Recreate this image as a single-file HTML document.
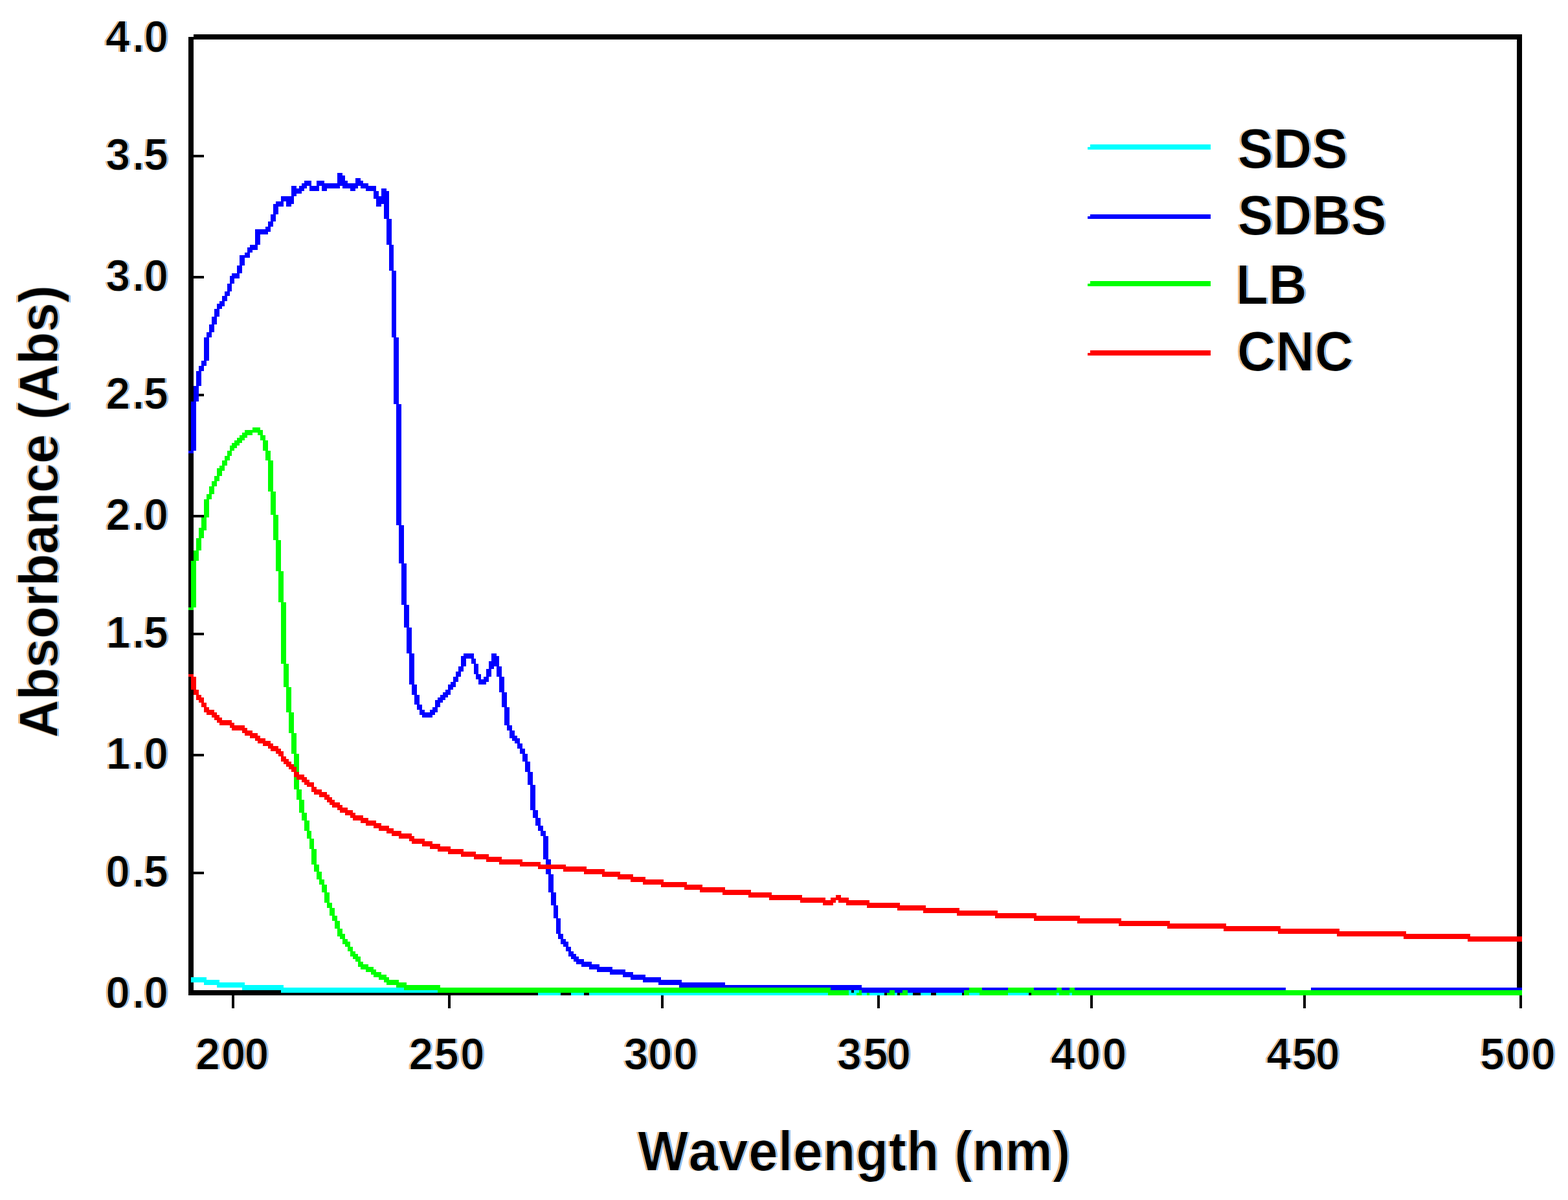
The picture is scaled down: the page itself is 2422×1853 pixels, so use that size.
<!DOCTYPE html>
<html lang="en"><head><meta charset="utf-8"><title>UV-Vis absorbance spectra</title>
<style>
html,body{margin:0;padding:0;background:#fff}
body{width:2422px;height:1853px;overflow:hidden}
svg{display:block}
text{font-family:"Liberation Sans",Arial,Helvetica,sans-serif;font-weight:bold;fill:#000}
</style></head>
<body>
<svg width="2422" height="1853" viewBox="0 0 2422 1853">
<rect width="2422" height="1853" fill="#fff"/>
<path fill="#000" shape-rendering="crispEdges" d="M298.94 52.7H2350.65V56.67H298.94ZM291 56.67H2350.65V60.64H291ZM291 60.64H298.94V239.22H291ZM291 239.22H314.81V243.19H291ZM291 243.19H298.94V425.74H291ZM291 425.74H314.81V429.71H291ZM291 429.71H298.94V608.29H291ZM291 608.29H314.81V612.26H291ZM291 612.26H298.94V794.81H291ZM291 794.81H314.81V798.78H291ZM291 798.78H298.94V977.36H291ZM291 977.36H314.81V981.33H291ZM291 981.33H298.94V1163.88H291ZM291 1163.88H314.81V1167.85H291ZM291 1167.85H298.94V1346.43H291ZM291 1346.43H314.81V1350.4H291ZM2342.71 60.64H2350.65V1528.98H2342.71ZM291 1350.4H298.94V1528.98H291ZM291 1528.98H2350.65V1536.92H291ZM1683.94 1536.92H1687.91V1556.76H1683.94ZM2013.33 1536.92H2017.3V1556.76H2013.33ZM691.82 1536.92H695.79V1556.76H691.82ZM1354.56 1536.92H1358.53V1556.76H1354.56ZM1021.2 1536.92H1025.17V1556.76H1021.2ZM2346.68 1536.92H2350.65V1556.76H2346.68ZM358.46 1536.92H362.43V1556.76H358.46Z"/>
<path fill="#00ffff" shape-rendering="crispEdges" d="M1683.94 223.35H1870.46V227.31H1683.94ZM1679.98 227.31H1870.46V231.28H1679.98ZM294.97 1509.14H318.78V1513.11H294.97ZM294.97 1513.11H338.62V1517.08H294.97ZM314.81 1517.08H378.31V1521.05H314.81ZM334.65 1521.05H437.83V1525.01H334.65ZM374.34 1525.01H830.72V1528.98H374.34ZM1318.84 1528.98H1326.78V1532.95H1318.84ZM433.87 1528.98H830.72V1532.95H433.87ZM1310.9 1528.98H1314.87V1532.95H1310.9ZM1342.65 1532.95H1366.46V1536.92H1342.65ZM1310.9 1532.95H1322.81V1536.92H1310.9ZM882.31 1532.95H902.15V1536.92H882.31ZM1422.02 1532.95H1437.9V1536.92H1422.02ZM1652.2 1532.95H1656.16V1536.92H1652.2ZM1497.42 1532.95H1513.3V1536.92H1497.42ZM1445.83 1532.95H1485.52V1536.92H1445.83ZM1556.95 1532.95H1588.7V1536.92H1556.95ZM1382.34 1532.95H1386.31V1536.92H1382.34ZM1632.35 1532.95H1636.32V1536.92H1632.35ZM910.09 1532.95H1279.16V1536.92H910.09ZM830.72 1532.95H866.43V1536.92H830.72ZM1402.18 1532.95H1410.12V1536.92H1402.18ZM1330.75 1532.95H1338.68V1536.92H1330.75Z"/>
<path fill="#0000ff" shape-rendering="crispEdges" d="M521.17 267H529.11V270.97H521.17ZM521.17 270.97H533.08V278.9H521.17ZM548.95 274.94H556.89V278.9H548.95ZM489.43 278.9H501.33V282.87H489.43ZM469.58 278.9H481.49V282.87H469.58ZM548.95 278.9H560.86V282.87H548.95ZM521.17 278.9H537.05V282.87H521.17ZM465.61 282.87H481.49V286.84H465.61ZM489.43 282.87H568.8V286.84H489.43ZM461.65 286.84H473.55V290.81H461.65ZM449.74 286.84H457.68V290.81H449.74ZM529.11 286.84H552.92V290.81H529.11ZM556.89 286.84H580.7V290.81H556.89ZM497.36 286.84H525.14V290.81H497.36ZM477.52 286.84H493.39V294.78H477.52ZM541.02 290.81H548.95V294.78H541.02ZM449.74 290.81H469.58V294.78H449.74ZM588.64 290.81H596.57V294.78H588.64ZM497.36 290.81H505.3V294.78H497.36ZM564.83 290.81H580.7V294.78H564.83ZM449.74 294.78H465.61V298.75H449.74ZM576.73 294.78H584.67V302.72H576.73ZM588.64 294.78H600.54V302.72H588.64ZM449.74 298.75H457.68V302.72H449.74ZM576.73 302.72H600.54V306.68H576.73ZM433.87 302.72H453.71V310.65H433.87ZM580.7 306.68H600.54V314.62H580.7ZM425.93 310.65H437.83V314.62H425.93ZM441.8 310.65H453.71V314.62H441.8ZM441.8 314.62H449.74V318.59H441.8ZM580.7 314.62H588.64V318.59H580.7ZM421.96 314.62H437.83V318.59H421.96ZM421.96 318.59H429.9V330.5H421.96ZM1683.94 330.5H1870.46V334.46H1683.94ZM592.61 314.62H600.54V338.43H592.61ZM1679.98 334.46H1870.46V338.43H1679.98ZM417.99 330.5H425.93V342.4H417.99ZM414.02 342.4H421.96V350.34H414.02ZM410.06 350.34H417.99V354.31H410.06ZM394.18 354.31H417.99V358.27H394.18ZM394.18 358.27H414.02V362.24H394.18ZM596.57 338.43H604.51V378.12H596.57ZM394.18 362.24H402.12V378.12H394.18ZM386.24 378.12H398.15V382.09H386.24ZM382.28 382.09H398.15V386.05H382.28ZM382.28 386.05H390.21V390.02H382.28ZM378.31 390.02H386.24V393.99H378.31ZM370.37 393.99H386.24V397.96H370.37ZM370.37 397.96H378.31V409.87H370.37ZM600.54 378.12H608.48V417.8H600.54ZM366.4 409.87H374.34V421.77H366.4ZM358.46 421.77H370.37V425.74H358.46ZM354.5 425.74H370.37V429.71H354.5ZM354.5 429.71H362.43V437.64H354.5ZM350.53 437.64H358.46V449.55H350.53ZM346.56 449.55H354.5V457.49H346.56ZM342.59 457.49H350.53V465.42H342.59ZM338.62 465.42H346.56V469.39H338.62ZM334.65 469.39H346.56V473.36H334.65ZM334.65 473.36H342.59V477.33H334.65ZM330.69 477.33H338.62V489.24H330.69ZM326.72 489.24H334.65V501.14H326.72ZM322.75 501.14H330.69V513.05H322.75ZM604.51 417.8H612.45V520.98H604.51ZM318.78 513.05H326.72V520.98H318.78ZM314.81 520.98H322.75V556.7H314.81ZM310.84 556.7H318.78V564.64H310.84ZM306.87 564.64H314.81V572.57H306.87ZM302.91 572.57H310.84V596.38H302.91ZM298.94 596.38H306.87V620.2H298.94ZM608.48 520.98H616.42V624.16H608.48ZM294.97 620.2H302.91V695.6H294.97ZM291 695.6H298.94V699.57H291ZM612.45 624.16H620.39V810.68H612.45ZM616.42 810.68H624.35V870.21H616.42ZM620.39 870.21H628.32V933.71H620.39ZM624.35 933.71H632.29V969.42H624.35ZM628.32 969.42H636.26V1009.11H628.32ZM759.28 1009.11H767.22V1013.08H759.28ZM715.63 1009.11H731.5V1013.08H715.63ZM711.66 1013.08H731.5V1017.05H711.66ZM759.28 1013.08H771.19V1021.01H759.28ZM727.54 1017.05H735.47V1024.98H727.54ZM711.66 1017.05H719.6V1028.95H711.66ZM755.31 1021.01H771.19V1028.95H755.31ZM755.31 1028.95H763.25V1032.92H755.31ZM707.69 1028.95H715.63V1036.89H707.69ZM731.5 1024.98H739.44V1040.86H731.5ZM767.22 1028.95H775.16V1044.83H767.22ZM751.35 1032.92H759.28V1044.83H751.35ZM703.72 1036.89H711.66V1044.83H703.72ZM735.47 1040.86H743.41V1048.79H735.47ZM747.38 1044.83H755.31V1048.79H747.38ZM699.76 1044.83H707.69V1052.76H699.76ZM739.44 1048.79H755.31V1052.76H739.44ZM632.29 1009.11H640.23V1056.73H632.29ZM695.79 1052.76H703.72V1056.73H695.79ZM739.44 1052.76H751.35V1056.73H739.44ZM691.82 1056.73H703.72V1060.7H691.82ZM691.82 1060.7H699.76V1064.67H691.82ZM771.19 1044.83H779.13V1068.64H771.19ZM687.85 1064.67H695.79V1068.64H687.85ZM636.26 1056.73H644.2V1072.6H636.26ZM683.88 1068.64H695.79V1072.6H683.88ZM679.91 1072.6H691.82V1076.57H679.91ZM675.94 1076.57H687.85V1080.54H675.94ZM671.98 1080.54H683.88V1084.51H671.98ZM640.23 1072.6H648.16V1088.48H640.23ZM775.16 1068.64H783.09V1092.45H775.16ZM671.98 1084.51H679.91V1092.45H671.98ZM644.2 1088.48H652.13V1096.42H644.2ZM668.01 1092.45H675.94V1096.42H668.01ZM664.04 1096.42H675.94V1100.38H664.04ZM648.16 1096.42H656.1V1100.38H648.16ZM648.16 1100.38H671.98V1104.35H648.16ZM652.13 1104.35H668.01V1108.32H652.13ZM779.13 1092.45H787.06V1120.23H779.13ZM783.09 1120.23H791.03V1128.16H783.09ZM787.06 1128.16H795V1136.1H787.06ZM787.06 1136.1H798.97V1140.07H787.06ZM791.03 1140.07H802.94V1144.04H791.03ZM795 1144.04H802.94V1148.01H795ZM798.97 1148.01H806.9V1155.94H798.97ZM802.94 1155.94H810.87V1163.88H802.94ZM806.9 1163.88H814.84V1175.79H806.9ZM810.87 1175.79H818.81V1191.66H810.87ZM814.84 1191.66H822.78V1211.5H814.84ZM818.81 1211.5H826.75V1251.19H818.81ZM822.78 1251.19H830.72V1263.09H822.78ZM826.75 1263.09H834.68V1275H826.75ZM830.72 1275H838.65V1282.94H830.72ZM834.68 1282.94H842.62V1290.87H834.68ZM838.65 1290.87H846.59V1326.59H838.65ZM842.62 1326.59H850.56V1350.4H842.62ZM846.59 1350.4H854.53V1378.18H846.59ZM850.56 1378.18H858.5V1398.02H850.56ZM854.53 1398.02H862.46V1417.86H854.53ZM858.5 1417.86H866.43V1441.68H858.5ZM862.46 1441.68H870.4V1449.61H862.46ZM866.43 1449.61H874.37V1453.58H866.43ZM866.43 1453.58H878.34V1457.55H866.43ZM870.4 1457.55H878.34V1461.52H870.4ZM874.37 1461.52H882.31V1469.45H874.37ZM878.34 1469.45H886.27V1473.42H878.34ZM878.34 1473.42H890.24V1477.39H878.34ZM882.31 1477.39H894.21V1481.36H882.31ZM886.27 1481.36H902.15V1485.33H886.27ZM890.24 1485.33H914.05V1489.3H890.24ZM898.18 1489.3H925.96V1493.27H898.18ZM910.09 1493.27H945.8V1497.23H910.09ZM921.99 1497.23H965.64V1501.2H921.99ZM941.83 1501.2H977.55V1505.17H941.83ZM961.68 1505.17H997.39V1509.14H961.68ZM973.58 1509.14H1021.2V1513.11H973.58ZM993.42 1513.11H1052.95V1517.08H993.42ZM1017.24 1517.08H1120.42V1521.05H1017.24ZM1048.98 1521.05H1330.75V1525.01H1048.98ZM1120.42 1525.01H1497.42V1528.98H1120.42ZM1660.13 1525.01H1985.55V1528.98H1660.13ZM1596.64 1525.01H1632.35V1528.98H1596.64ZM1640.29 1525.01H1652.2V1528.98H1640.29ZM2025.23 1525.01H2350.65V1528.98H2025.23ZM1517.27 1525.01H1556.95V1528.98H1517.27ZM1330.75 1528.98H1489.49V1532.95H1330.75Z"/>
<path fill="#00ff00" shape-rendering="crispEdges" d="M1683.94 433.68H1870.46V437.64H1683.94ZM1679.98 437.64H1870.46V441.61H1679.98ZM390.21 659.88H402.12V663.85H390.21ZM378.31 663.85H406.09V667.82H378.31ZM398.15 667.82H406.09V671.79H398.15ZM374.34 667.82H390.21V671.79H374.34ZM370.37 671.79H382.28V675.75H370.37ZM402.12 671.79H410.06V679.72H402.12ZM366.4 675.75H378.31V679.72H366.4ZM362.43 679.72H374.34V683.69H362.43ZM358.46 683.69H370.37V687.66H358.46ZM354.5 687.66H366.4V691.63H354.5ZM406.09 679.72H414.02V695.6H406.09ZM354.5 691.63H362.43V695.6H354.5ZM350.53 695.6H358.46V703.53H350.53ZM410.06 695.6H417.99V711.47H410.06ZM346.56 703.53H354.5V711.47H346.56ZM342.59 711.47H350.53V719.41H342.59ZM338.62 719.41H346.56V723.38H338.62ZM334.65 723.38H346.56V727.35H334.65ZM334.65 727.35H342.59V735.28H334.65ZM330.69 735.28H338.62V743.22H330.69ZM326.72 743.22H334.65V751.16H326.72ZM414.02 711.47H421.96V759.09H414.02ZM322.75 751.16H330.69V763.06H322.75ZM318.78 763.06H326.72V771H318.78ZM417.99 759.09H425.93V794.81H417.99ZM314.81 771H322.75V798.78H314.81ZM310.84 798.78H318.78V814.65H310.84ZM306.87 814.65H318.78V818.62H306.87ZM306.87 818.62H314.81V830.53H306.87ZM421.96 794.81H429.9V834.49H421.96ZM302.91 830.53H310.84V850.37H302.91ZM298.94 850.37H306.87V866.24H298.94ZM425.93 834.49H433.87V882.12H425.93ZM429.9 882.12H437.83V929.74H429.9ZM294.97 866.24H302.91V937.68H294.97ZM291 937.68H298.94V941.64H291ZM433.87 929.74H441.8V1024.98H433.87ZM437.83 1024.98H445.77V1060.7H437.83ZM441.8 1060.7H449.74V1100.38H441.8ZM445.77 1100.38H453.71V1132.13H445.77ZM449.74 1132.13H457.68V1163.88H449.74ZM453.71 1163.88H461.65V1219.44H453.71ZM457.68 1219.44H465.61V1235.31H457.68ZM461.65 1235.31H469.58V1255.16H461.65ZM465.61 1255.16H473.55V1267.06H465.61ZM469.58 1267.06H477.52V1282.94H469.58ZM473.55 1282.94H481.49V1294.84H473.55ZM477.52 1294.84H485.46V1310.71H477.52ZM481.49 1310.71H489.43V1334.53H481.49ZM485.46 1334.53H493.39V1346.43H485.46ZM489.43 1346.43H497.36V1358.34H489.43ZM493.39 1358.34H501.33V1366.27H493.39ZM497.36 1366.27H505.3V1378.18H497.36ZM501.33 1378.18H509.27V1394.05H501.33ZM505.3 1394.05H513.24V1401.99H505.3ZM509.27 1401.99H517.2V1413.9H509.27ZM513.24 1413.9H521.17V1421.83H513.24ZM517.2 1421.83H525.14V1433.74H517.2ZM521.17 1433.74H529.11V1441.68H521.17ZM521.17 1441.68H533.08V1445.64H521.17ZM525.14 1445.64H533.08V1449.61H525.14ZM529.11 1449.61H537.05V1453.58H529.11ZM529.11 1453.58H541.02V1457.55H529.11ZM533.08 1457.55H541.02V1461.52H533.08ZM537.05 1461.52H544.98V1469.45H537.05ZM541.02 1469.45H548.95V1473.42H541.02ZM541.02 1473.42H552.92V1477.39H541.02ZM544.98 1477.39H556.89V1481.36H544.98ZM548.95 1481.36H556.89V1485.33H548.95ZM552.92 1485.33H560.86V1489.3H552.92ZM552.92 1489.3H568.8V1493.27H552.92ZM556.89 1493.27H576.73V1497.23H556.89ZM564.83 1497.23H580.7V1501.2H564.83ZM572.76 1501.2H588.64V1505.17H572.76ZM576.73 1505.17H596.57V1509.14H576.73ZM584.67 1509.14H600.54V1513.11H584.67ZM592.61 1513.11H616.42V1517.08H592.61ZM596.57 1517.08H628.32V1521.05H596.57ZM612.45 1521.05H679.91V1525.01H612.45ZM1497.42 1525.01H1517.27V1528.98H1497.42ZM624.35 1525.01H1283.12V1528.98H624.35ZM1632.35 1525.01H1640.29V1528.98H1632.35ZM1556.95 1525.01H1596.64V1528.98H1556.95ZM1652.2 1525.01H1660.13V1528.98H1652.2ZM675.94 1528.98H1310.9V1532.95H675.94ZM1489.49 1528.98H2350.65V1532.95H1489.49ZM1326.78 1528.98H1330.75V1532.95H1326.78ZM1394.24 1528.98H1402.18V1532.95H1394.24ZM1374.4 1528.98H1382.34V1532.95H1374.4ZM1656.16 1532.95H2350.65V1536.92H1656.16ZM1279.16 1532.95H1310.9V1536.92H1279.16ZM1390.27 1532.95H1402.18V1536.92H1390.27ZM1592.67 1532.95H1632.35V1536.92H1592.67ZM1489.49 1532.95H1497.42V1536.92H1489.49ZM1338.68 1532.95H1342.65V1536.92H1338.68ZM1322.81 1532.95H1330.75V1536.92H1322.81ZM1636.32 1532.95H1652.2V1536.92H1636.32ZM1370.43 1532.95H1382.34V1536.92H1370.43ZM1513.3 1532.95H1556.95V1536.92H1513.3Z"/>
<path fill="#ff0000" shape-rendering="crispEdges" d="M1683.94 540.83H1870.46V544.79H1683.94ZM1679.98 544.79H1870.46V548.76H1679.98ZM291 1040.86H298.94V1044.83H291ZM294.97 1044.83H302.91V1064.67H294.97ZM298.94 1064.67H306.87V1072.6H298.94ZM302.91 1072.6H310.84V1076.57H302.91ZM302.91 1076.57H314.81V1080.54H302.91ZM306.87 1080.54H314.81V1084.51H306.87ZM310.84 1084.51H318.78V1092.45H310.84ZM314.81 1092.45H322.75V1096.42H314.81ZM314.81 1096.42H330.69V1100.38H314.81ZM318.78 1100.38H334.65V1104.35H318.78ZM326.72 1104.35H338.62V1108.32H326.72ZM330.69 1108.32H342.59V1112.29H330.69ZM334.65 1112.29H358.46V1116.26H334.65ZM338.62 1116.26H362.43V1120.23H338.62ZM354.5 1120.23H378.31V1124.2H354.5ZM358.46 1124.2H382.28V1128.16H358.46ZM374.34 1128.16H390.21V1132.13H374.34ZM378.31 1132.13H398.15V1136.1H378.31ZM386.24 1136.1H402.12V1140.07H386.24ZM394.18 1140.07H410.06V1144.04H394.18ZM398.15 1144.04H417.99V1148.01H398.15ZM406.09 1148.01H421.96V1151.97H406.09ZM414.02 1151.97H429.9V1155.94H414.02ZM417.99 1155.94H433.87V1159.91H417.99ZM425.93 1159.91H437.83V1163.88H425.93ZM429.9 1163.88H437.83V1167.85H429.9ZM433.87 1167.85H441.8V1171.82H433.87ZM433.87 1171.82H445.77V1175.79H433.87ZM437.83 1175.79H449.74V1179.75H437.83ZM441.8 1179.75H453.71V1183.72H441.8ZM445.77 1183.72H457.68V1187.69H445.77ZM449.74 1187.69H457.68V1191.66H449.74ZM453.71 1191.66H461.65V1195.63H453.71ZM453.71 1195.63H469.58V1199.6H453.71ZM457.68 1199.6H473.55V1203.57H457.68ZM465.61 1203.57H477.52V1207.53H465.61ZM469.58 1207.53H485.46V1211.5H469.58ZM473.55 1211.5H485.46V1215.47H473.55ZM481.49 1215.47H489.43V1219.44H481.49ZM481.49 1219.44H497.36V1223.41H481.49ZM485.46 1223.41H505.3V1227.38H485.46ZM493.39 1227.38H509.27V1231.34H493.39ZM501.33 1231.34H513.24V1235.31H501.33ZM505.3 1235.31H517.2V1239.28H505.3ZM509.27 1239.28H525.14V1243.25H509.27ZM513.24 1243.25H529.11V1247.22H513.24ZM521.17 1247.22H537.05V1251.19H521.17ZM525.14 1251.19H544.98V1255.16H525.14ZM533.08 1255.16H548.95V1259.12H533.08ZM541.02 1259.12H560.86V1263.09H541.02ZM544.98 1263.09H568.8V1267.06H544.98ZM556.89 1267.06H580.7V1271.03H556.89ZM564.83 1271.03H588.64V1275H564.83ZM576.73 1275H600.54V1278.97H576.73ZM584.67 1278.97H608.48V1282.94H584.67ZM596.57 1282.94H620.39V1286.9H596.57ZM604.51 1286.9H636.26V1290.87H604.51ZM616.42 1290.87H640.23V1294.84H616.42ZM632.29 1294.84H656.1V1298.81H632.29ZM636.26 1298.81H668.01V1302.78H636.26ZM652.13 1302.78H679.91V1306.75H652.13ZM664.04 1306.75H695.79V1310.71H664.04ZM675.94 1310.71H715.63V1314.68H675.94ZM691.82 1314.68H735.47V1318.65H691.82ZM711.66 1318.65H755.31V1322.62H711.66ZM731.5 1322.62H775.16V1326.59H731.5ZM751.35 1326.59H806.9V1330.56H751.35ZM771.19 1330.56H834.68V1334.53H771.19ZM802.94 1334.53H874.37V1338.49H802.94ZM830.72 1338.49H906.12V1342.46H830.72ZM870.4 1342.46H933.9V1346.43H870.4ZM902.15 1346.43H957.71V1350.4H902.15ZM929.93 1350.4H977.55V1354.37H929.93ZM953.74 1354.37H997.39V1358.34H953.74ZM973.58 1358.34H1025.17V1362.31H973.58ZM993.42 1362.31H1060.89V1366.27H993.42ZM1021.2 1366.27H1084.7V1370.24H1021.2ZM1056.92 1370.24H1120.42V1374.21H1056.92ZM1080.73 1374.21H1160.1V1378.18H1080.73ZM1116.45 1378.18H1191.85V1382.15H1116.45ZM1156.13 1382.15H1239.47V1386.12H1156.13ZM1291.06 1382.15H1299V1386.12H1291.06ZM1283.12 1386.12H1310.9V1390.08H1283.12ZM1187.88 1386.12H1275.19V1390.08H1187.88ZM1295.03 1390.08H1342.65V1394.05H1295.03ZM1235.5 1390.08H1291.06V1394.05H1235.5ZM1306.94 1394.05H1390.27V1398.02H1306.94ZM1271.22 1394.05H1287.09V1398.02H1271.22ZM1338.68 1398.02H1429.96V1401.99H1338.68ZM1386.31 1401.99H1481.55V1405.96H1386.31ZM1425.99 1405.96H1541.08V1409.93H1425.99ZM1477.58 1409.93H1600.61V1413.9H1477.58ZM1537.11 1413.9H1668.07V1417.86H1537.11ZM1596.64 1417.86H1731.57V1421.83H1596.64ZM1664.1 1421.83H1806.97V1425.8H1664.1ZM1727.6 1425.8H1894.27V1429.77H1727.6ZM1803 1429.77H1977.61V1433.74H1803ZM1890.31 1433.74H2068.89V1437.71H1890.31ZM1973.64 1437.71H2172.07V1441.68H1973.64ZM2064.92 1441.68H2271.28V1445.64H2064.92ZM2168.1 1445.64H2350.65V1449.61H2168.1ZM2267.31 1449.61H2350.65V1453.58H2267.31Z"/>
<defs><filter id="ct" x="-10%" y="-10%" width="120%" height="120%" color-interpolation-filters="sRGB"><feOffset in="SourceAlpha" dx="-0.9" result="a"/><feOffset in="SourceAlpha" dx="0.9" result="b"/><feComposite in="a" in2="b" operator="in" result="core"/><feOffset in="SourceAlpha" dx="-1.6" result="l"/><feFlood flood-color="#e8953a" flood-opacity="0.65"/><feComposite in2="l" operator="in" result="lc"/><feOffset in="SourceAlpha" dx="1.6" result="r"/><feFlood flood-color="#4a9ae8" flood-opacity="0.65"/><feComposite in2="r" operator="in" result="rc"/><feMerge><feMergeNode in="lc"/><feMergeNode in="rc"/><feMergeNode in="core"/></feMerge></filter><filter id="cl" x="-10%" y="-10%" width="120%" height="120%" color-interpolation-filters="sRGB"><feOffset in="SourceAlpha" dx="-1.0" result="a"/><feOffset in="SourceAlpha" dx="1.0" result="b"/><feComposite in="a" in2="b" operator="in" result="core"/><feOffset in="SourceAlpha" dx="-1.8" result="l"/><feFlood flood-color="#e8953a" flood-opacity="0.65"/><feComposite in2="l" operator="in" result="lc"/><feOffset in="SourceAlpha" dx="1.8" result="r"/><feFlood flood-color="#4a9ae8" flood-opacity="0.65"/><feComposite in2="r" operator="in" result="rc"/><feMerge><feMergeNode in="lc"/><feMergeNode in="rc"/><feMergeNode in="core"/></feMerge></filter></defs>
<g font-size="68.5" style="font-kerning:none" filter="url(#ct)">
<text x="162.6 204.2 222.3" y="79.6">4.0</text>
<text x="163.3 204.2 222.1" y="262.1">3.5</text>
<text x="163.3 204.2 222.3" y="448.7">3.0</text>
<text x="163.2 204.2 222.1" y="631.2">2.5</text>
<text x="163.2 204.2 222.3" y="817.7">2.0</text>
<text x="163.6 204.2 222.1" y="1000.3">1.5</text>
<text x="163.6 204.2 222.3" y="1186.8">1.0</text>
<text x="163 204.2 222.1" y="1369.3">0.5</text>
<text x="163 204.2 222.3" y="1555.9">0.0</text>
<text x="301.9 341.5 377.4" y="1651.1">200</text>
<text x="631.2 670.8 710.7" y="1651.1">250</text>
<text x="963.4 1000.7 1040.3" y="1651.1">300</text>
<text x="1293 1333.5 1369.3" y="1651.1">350</text>
<text x="1622.7 1662.6 1702.5" y="1651.1">400</text>
<text x="1956.1 1995.8 2031.8" y="1651.1">450</text>
<text x="2285.9 2325.8 2365" y="1651.1">500</text>
</g>
<g font-size="83" style="font-kerning:none" filter="url(#cl)">
<text transform="translate(985 1806.5) scale(1 1.036)">Wavelength (nm)</text>
<text transform="translate(88.6 1137.3) rotate(-90) scale(0.9775 1.02)" x="-2.1">Absorbance (Abs)</text>
<text transform="translate(1911.4 258.7) scale(1 1.036)">SDS</text>
<text transform="translate(1911.4 361.8) scale(1 1.036)">SDBS</text>
<text transform="translate(1908.5 469) scale(1 1.036)">LB</text>
<text transform="translate(1910.6 572.2) scale(1 1.036)">CNC</text>
</g>
</svg>
</body></html>
